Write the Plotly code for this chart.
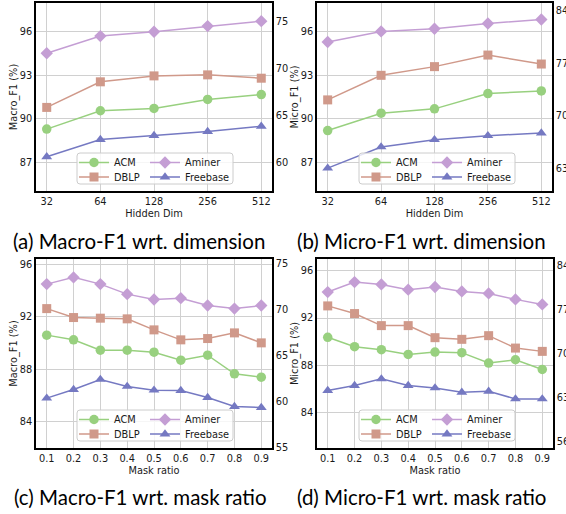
import plotly.graph_objects as go

# ---------------- data ----------------
dims = ["32", "64", "128", "256", "512"]
ratios = [0.1, 0.2, 0.3, 0.4, 0.5, 0.6, 0.7, 0.8, 0.9]
ratio_labels = ["0.1", "0.2", "0.3", "0.4", "0.5", "0.6", "0.7", "0.8", "0.9"]

macro_dim_acm = [89.28, 90.55, 90.71, 91.33, 91.67]
macro_dim_dblp = [90.78, 92.55, 92.96, 93.03, 92.80]
macro_dim_aminer = [71.65, 73.48, 73.94, 74.54, 75.07]
macro_dim_freebase = [60.64, 62.47, 62.90, 63.32, 63.88]

micro_dim_acm = [89.18, 90.38, 90.68, 91.74, 91.92]
micro_dim_dblp = [91.30, 93.00, 93.60, 94.40, 93.78]
micro_dim_aminer = [79.82, 81.22, 81.58, 82.28, 82.81]
micro_dim_freebase = [63.04, 65.86, 66.83, 67.36, 67.71]

macro_mask_acm = [90.60, 90.24, 89.45, 89.45, 89.30, 88.69, 89.07, 87.65, 87.40]
macro_mask_dblp = [92.62, 91.94, 91.89, 91.84, 91.00, 90.24, 90.34, 90.77, 90.01]
macro_mask_aminer = [72.82, 73.55, 72.82, 71.73, 71.15, 71.29, 70.49, 70.16, 70.49]
macro_mask_freebase = [60.42, 61.36, 62.45, 61.69, 61.29, 61.25, 60.49, 59.51, 59.40]

micro_mask_acm = [90.37, 89.58, 89.32, 88.92, 89.12, 89.07, 88.19, 88.47, 87.65]
micro_mask_dblp = [93.03, 92.38, 91.36, 91.36, 90.34, 90.20, 90.51, 89.46, 89.18]
micro_mask_aminer = [79.75, 81.34, 80.97, 80.13, 80.55, 79.86, 79.54, 78.59, 77.79]
micro_mask_freebase = [64.11, 64.91, 65.97, 64.91, 64.54, 63.85, 64.00, 62.79, 62.79]

series_names = ["ACM", "DBLP", "Aminer", "Freebase"]

left_ticks = [[87, 90, 93, 96], [87, 90, 93, 96], [84, 88, 92, 96], [84, 88, 92, 96]]
right_ticks = [[60, 65, 70, 75], [63, 70, 77, 84], [55, 60, 65, 70, 75], [56, 63, 70, 77, 84]]
y_titles = ["Macro_F1 (%)", "Micro_F1 (%)", "Macro_F1 (%)", "Micro_F1 (%)"]
x_titles = ["Hidden Dim", "Hidden Dim", "Mask ratio", "Mask ratio"]
captions = ["(a) Macro-F1 wrt. dimension", "(b) Micro-F1 wrt. dimension",
            "(c) Macro-F1 wrt. mask ratio", "(d) Micro-F1 wrt. mask ratio"]

# ---------------- style ----------------
W, H = 566, 514
colors = ["#98d07f", "#d0998a", "#c49ed4", "#7579c2"]
symbols = ["circle", "square", "diamond", "triangle-up"]
msizes = [9.5, 9, 9.5, 9.5]
FONT = "DejaVu Sans"
FS = 9.8

panels = [
    dict(x=dims, data=[macro_dim_acm, macro_dim_dblp, macro_dim_aminer, macro_dim_freebase],
         xr=[-0.2, 4.2], yl=[85, 98], yr=[57, 77], px=(36, 272), py=(3, 191)),
    dict(x=dims, data=[micro_dim_acm, micro_dim_dblp, micro_dim_aminer, micro_dim_freebase],
         xr=[-0.2, 4.2], yl=[85, 98], yr=[60, 85], px=(317, 552), py=(3, 191)),
    dict(x=ratios, data=[macro_mask_acm, macro_mask_dblp, macro_mask_aminer, macro_mask_freebase],
         xr=[0.06, 0.94], yl=[82, 96.4], yr=[55, 75.55], px=(36, 272), py=(259, 448)),
    dict(x=ratios, data=[micro_mask_acm, micro_mask_dblp, micro_mask_aminer, micro_mask_freebase],
         xr=[0.06, 0.94], yl=[81, 97], yr=[55, 85], px=(317, 553), py=(259, 448)),
]

legend_boxes = [(77, 153), (359, 153), (77, 410), (359, 410)]


def fx(px):
    return px / W


def fy(py):
    return 1 - py / H


fig = go.Figure()
layout = dict(width=W, height=H, autosize=False, margin=dict(l=0, r=0, t=0, b=0),
              template="none", paper_bgcolor="white", plot_bgcolor="white",
              showlegend=True, shapes=[], annotations=[])

tickfont = dict(family=FONT, size=FS, color="#1a1a1a")

for p, pan in enumerate(panels):
    xi = "" if p == 0 else str(p + 1)
    yl_i = "" if p == 0 else str(2 * p + 1)
    yr_i = str(2 * p + 2)
    xd = [fx(pan["px"][0]), fx(pan["px"][1])]
    yd = [fy(pan["py"][1]), fy(pan["py"][0])]

    xax = dict(domain=xd, anchor="y" + yl_i, range=pan["xr"], showline=True, linecolor="black",
               linewidth=1.5, mirror=True, ticks="", showgrid=True, gridcolor="#d0d0d0",
               gridwidth=1.2, zeroline=False, tickfont=tickfont,
               title=dict(text=x_titles[p], font=dict(family=FONT, size=FS, color="#1a1a1a"), standoff=5))
    if p >= 2:
        xax.update(tickmode="array", tickvals=ratios, ticktext=ratio_labels)
    else:
        xax.update(type="category")
    layout["xaxis" + xi] = xax

    layout["yaxis" + yl_i] = dict(domain=yd, anchor="x" + xi, range=pan["yl"], showline=True,
                                  linecolor="black", linewidth=1.5, mirror=True, ticks="",
                                  tickmode="array", tickvals=left_ticks[p], showgrid=True,
                                  gridcolor="#d0d0d0", gridwidth=1.2, zeroline=False, tickfont=tickfont,
                                  title=dict(text=y_titles[p], font=dict(family=FONT, size=FS, color="#1a1a1a"),
                                             standoff=0))
    layout["yaxis" + yr_i] = dict(overlaying="y" + yl_i, anchor="x" + xi, side="right", range=pan["yr"],
                                  showline=True, linecolor="black", linewidth=1.5, ticks="",
                                  tickmode="array", tickvals=right_ticks[p], showgrid=False,
                                  zeroline=False, tickfont=tickfont)

    for k in range(4):
        lid = p * 4 + k + 1
        lname = "legend" if lid == 1 else "legend" + str(lid)
        yaxis_ref = "y" + yl_i if k < 2 else "y" + yr_i
        fig.add_trace(go.Scatter(
            x=pan["x"], y=pan["data"][k], name=series_names[k], mode="lines+markers",
            line=dict(color=colors[k], width=1.5),
            marker=dict(symbol=symbols[k], size=msizes[k], color=colors[k]),
            xaxis="x" + xi, yaxis=yaxis_ref, legend=lname, showlegend=True))
        bx, by = legend_boxes[p]
        row = k % 2
        lx = bx - 3 if k < 2 else bx + 68
        ly = by + 9.5 + 14.5 * row
        layout[lname] = dict(x=fx(lx), y=fy(ly), xanchor="left", yanchor="middle",
                             bgcolor="rgba(0,0,0,0)", borderwidth=0,
                             font=dict(family=FONT, size=FS, color="#1a1a1a"))

    # legend frame (rounded)
    bx, by = legend_boxes[p]
    x0, x1, y0, y1, r = bx, bx + 156, by, by + 31, 3
    pts = (f"M{fx(x0 + r)},{fy(y0)} L{fx(x1 - r)},{fy(y0)} Q{fx(x1)},{fy(y0)} {fx(x1)},{fy(y0 + r)} "
           f"L{fx(x1)},{fy(y1 - r)} Q{fx(x1)},{fy(y1)} {fx(x1 - r)},{fy(y1)} "
           f"L{fx(x0 + r)},{fy(y1)} Q{fx(x0)},{fy(y1)} {fx(x0)},{fy(y1 - r)} "
           f"L{fx(x0)},{fy(y0 + r)} Q{fx(x0)},{fy(y0)} {fx(x0 + r)},{fy(y0)} Z")
    layout["shapes"].append(dict(type="path", path=pts, xref="paper", yref="paper", layer="above",
                                 fillcolor="rgba(255,255,255,0.8)", line=dict(color="#cccccc", width=1)))

cap_pos = [(138.5, 241), (421.5, 241), (140, 497), (421.5, 497)]
for p in range(4):
    layout["annotations"].append(dict(text=captions[p], x=fx(cap_pos[p][0]), y=fy(cap_pos[p][1]),
                                      xref="paper", yref="paper", showarrow=False, xanchor="center",
                                      yanchor="middle", font=dict(family="Lato", size=20.5, color="black")))

fig.update_layout(**layout)
fig.write_html("out.html", config={"displayModeBar": False},
               post_script="document.body.style.margin='0';document.body.style.padding='0';")
